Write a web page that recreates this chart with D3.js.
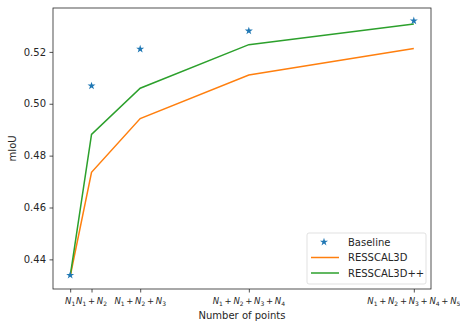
<!DOCTYPE html>
<html>
<head>
<meta charset="utf-8">
<script src="https://cdn.jsdelivr.net/npm/d3@7"></script>
<style>
  body { margin: 0; background: #fff; }
  text { font-family: "DejaVu Sans", sans-serif; fill: #262626; }
</style>
</head>
<body>
<script>
// chart data
var xValues = [0, 1, 3.28, 8.37, 16.1];   // relative number of points
var tickTerms = [1, 2, 3, 4, 5];          // how many N_i in each label
var baseline = [0.4339, 0.5069, 0.5211, 0.5281, 0.5320];
var resscal = [0.4335, 0.4736, 0.4943, 0.5111, 0.5213];
var resscalPP = [0.4335, 0.4882, 0.5060, 0.5228, 0.5308];
var yTicks = [0.44, 0.46, 0.48, 0.50, 0.52];

var svgWidth = 460, svgHeight = 322;
var margin = { top: 8, right: 29, bottom: 33, left: 53 };
var width = svgWidth - margin.left - margin.right;
var height = svgHeight - margin.top - margin.bottom;

var svg = d3.select("body").append("svg")
    .attr("width", svgWidth)
    .attr("height", svgHeight);

var g = svg.append("g")
    .attr("transform", "translate(" + margin.left + "," + margin.top + ")");

// matplotlib style 5% padding
var xMin = d3.min(xValues), xMax = d3.max(xValues);
var xPad = (xMax - xMin) * 0.05;
var x = d3.scaleLinear().domain([xMin - xPad, xMax + xPad]).range([0, width]);

var all = baseline.concat(resscal, resscalPP);
var yMin = d3.min(all), yMax = d3.max(all);
var yPad = (yMax - yMin) * 0.05;
var y = d3.scaleLinear().domain([yMin - yPad, yMax + yPad]).range([height, 0]);

// lines
var line = d3.line()
    .x(function(d, i) { return x(xValues[i]); })
    .y(function(d) { return y(d); });

g.append("path").datum(resscal)
    .attr("d", line)
    .attr("fill", "none")
    .attr("stroke", "#ff7f0e")
    .attr("stroke-width", 1.5);

g.append("path").datum(resscalPP)
    .attr("d", line)
    .attr("fill", "none")
    .attr("stroke", "#2ca02c")
    .attr("stroke-width", 1.5);

// stars for baseline
var star = d3.symbol().type(d3.symbolStar).size(20);
g.selectAll(".star").data(baseline).enter()
    .append("path")
    .attr("class", "star")
    .attr("d", star)
    .attr("transform", function(d, i) { return "translate(" + x(xValues[i]) + "," + y(d) + ")"; })
    .attr("fill", "#1f77b4");

// axes
var yAxis = g.append("g")
    .call(d3.axisLeft(y).tickValues(yTicks).tickFormat(d3.format(".2f")).tickSizeOuter(0).tickSize(3.5).tickPadding(3.5));
yAxis.selectAll("text").style("font-size", "10px");

var xAxis = g.append("g")
    .attr("transform", "translate(0," + height + ")")
    .call(d3.axisBottom(x).tickValues(xValues).tickFormat("").tickSizeOuter(0).tickSize(3.5));

g.selectAll(".domain").remove();
g.selectAll(".tick line").attr("stroke", "#262626").attr("stroke-width", 0.8);

// x tick labels, N_1 + N_2 + ...
xValues.forEach(function(v, i) {
    var t = g.append("text")
        .attr("x", x(v))
        .attr("y", height + 15)
        .attr("text-anchor", "middle")
        .style("font-size", "8.5px");
    for (var k = 1; k <= tickTerms[i]; k++) {
        if (k > 1) t.append("tspan").attr("dy", -2).text("\u2009+\u2009");
        t.append("tspan").style("font-style", "italic").text("N");
        t.append("tspan").attr("dy", 2).style("font-size", "6px").text(k);
    }
});

// frame
g.append("rect")
    .attr("width", width)
    .attr("height", height)
    .attr("fill", "none")
    .attr("stroke", "#262626")
    .attr("stroke-width", 0.8);

// axis titles
svg.append("text")
    .attr("x", margin.left + width / 2)
    .attr("y", svgHeight - 3)
    .attr("text-anchor", "middle")
    .style("font-size", "10px")
    .text("Number of points");

svg.append("text")
    .attr("transform", "translate(16," + (margin.top + height / 2) + ") rotate(-90)")
    .attr("text-anchor", "middle")
    .style("font-size", "10px")
    .text("mIoU");

// legend
var legend = g.append("g")
    .attr("transform", "translate(" + (width - 124) + "," + (height - 56) + ")");

legend.append("rect")
    .attr("width", 119)
    .attr("height", 51)
    .attr("rx", 2)
    .attr("fill", "#fff")
    .attr("fill-opacity", 0.8)
    .attr("stroke", "#d9d9d9")
    .attr("stroke-width", 0.8);

var entries = [
    { name: "Baseline", type: "star", color: "#1f77b4" },
    { name: "RESSCAL3D", type: "line", color: "#ff7f0e" },
    { name: "RESSCAL3D++", type: "line", color: "#2ca02c" }
];

entries.forEach(function(e, i) {
    var row = legend.append("g").attr("transform", "translate(0," + (9 + i * 15.5) + ")");
    if (e.type === "star") {
        row.append("path").attr("d", star).attr("transform", "translate(17,0)").attr("fill", e.color);
    } else {
        row.append("line").attr("x1", 4).attr("x2", 32).attr("y1", 0).attr("y2", 0)
            .attr("stroke", e.color).attr("stroke-width", 1.5);
    }
    row.append("text").attr("x", 41).attr("y", 3.5).style("font-size", "10px").text(e.name);
});
</script>
</body>
</html>
